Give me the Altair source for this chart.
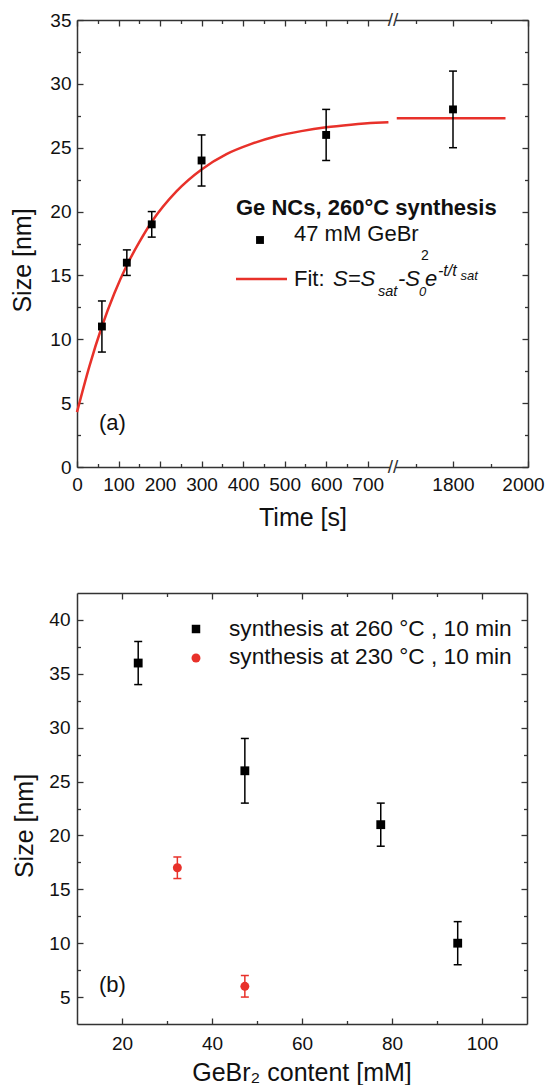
import altair as alt
import pandas as pd

FONT = "Liberation Sans"
AXC = "#333333"
TXT = "#111111"
RED = "#e8312a"

# ---------------- panel (a): size vs time ----------------
time_s = [60, 120, 180, 300, 600, 1800]
size_a = [11, 16, 19, 24, 26, 28]
err_a = [2, 1, 1, 2, 2, 3]

fit_t_early = [0, 30, 60, 90, 120, 150, 180, 240, 300, 360, 420, 480, 540, 600, 660, 720, 750]
fit_s_early = [4.3, 7.9, 11.0, 13.6, 15.8, 17.6, 19.2, 21.6, 23.3, 24.5, 25.3, 25.9, 26.3, 26.6, 26.8, 26.95, 27.0]
fit_t_late = [1650, 1940]
fit_s_late = [27.3, 27.3]

time_major_early = [0, 100, 200, 300, 400, 500, 600, 700]
time_minor_early = [50, 150, 250, 350, 450, 550, 650]
time_major_late = [1800, 2000]
time_minor_late = [1700, 1900]
size_major_a = [0, 5, 10, 15, 20, 25, 30, 35]
size_minor_a = [2.5, 7.5, 12.5, 17.5, 22.5, 27.5, 32.5]

legend_a_title = ["Ge NCs, 260°C synthesis"]
legend_a_series = ["47 mM GeBr"]
legend_a_sub = ["2"]
fit_parts = ["Fit:", "S=S", "sat", "-S", "0", "e", "-t/t", "sat"]
panel_a_tag = ["(a)"]
break_mark = ["//"]

# ---------------- panel (b): size vs GeBr2 content ----------------
conc_260 = [23.6, 47.3, 77.5, 94.6]
size_260 = [36, 26, 21, 10]
err_260 = [2, 3, 2, 2]
conc_230 = [32.3, 47.3]
size_230 = [17, 6]
err_230 = [1, 1]

conc_major = [20, 40, 60, 80, 100]
conc_minor = [30, 50, 70, 90]
size_major_b = [5, 10, 15, 20, 25, 30, 35, 40]
size_minor_b = [7.5, 12.5, 17.5, 22.5, 27.5, 32.5, 37.5]

legend_b = ["synthesis at 260 °C , 10 min", "synthesis at 230 °C , 10 min"]
panel_b_tag = ["(b)"]


def ax(orient, values, major=True, labels=False, domain=False, title=None,
       title_xy=(0, 0), pad=7, label_offset=None):
    tick = 6 if major else 3.5
    kw = dict(orient=orient, values=values, grid=False, ticks=True,
              tickSize=alt.ExprRef(expr=f"-{tick}"), tickColor=AXC, tickWidth=1.3,
              domain=domain, labels=labels, format="d")
    if domain:
        kw.update(domainColor=AXC, domainWidth=1.5)
    if labels:
        kw.update(labelFont=FONT, labelFontSize=19, labelColor=TXT,
                  labelPadding=tick + pad, labelFlush=False, labelOverlap=False)
        if label_offset is not None:
            kw.update(labelOffset=label_offset)
    if title:
        kw.update(title=title, titleFont=FONT, titleFontSize=25, titleFontWeight="normal",
                  titleColor=TXT, titleX=title_xy[0], titleY=title_xy[1],
                  titleAlign="center", titleBaseline="middle")
        if orient in ("left", "right"):
            kw.update(titleAngle=270)
    else:
        kw["title"] = None
    return alt.Axis(**kw)


def one(vals, col="v"):
    return pd.DataFrame({col: vals})


def text_at(s, x, y, size=22, style="normal", weight="normal", color=TXT, align="left"):
    return alt.Chart(one([s])).mark_text(
        font=FONT, fontSize=size, fontStyle=style, fontWeight=weight, color=color,
        align=align, baseline="middle"
    ).encode(x=alt.value(x), y=alt.value(y), text="v:N")


pts = pd.DataFrame({"t": time_s, "s": size_a, "e": err_a})
pts["lo"] = pts["s"] - pts["e"]
pts["hi"] = pts["s"] + pts["e"]
pts_early = pts[pts["t"] <= 761]
pts_late = pts[pts["t"] > 761]
fit_early = pd.DataFrame({"t": fit_t_early, "s": fit_s_early})
fit_late = pd.DataFrame({"t": fit_t_late, "s": fit_s_late})

ya = alt.Scale(domain=[0, 35], nice=False, zero=False)


def time_panel(xs, fit_df, p_df, major, minor, side, main, label_offset=None):
    yside = "left" if side == "left" else "right"
    fit = alt.Chart(fit_df).mark_line(color=RED, strokeWidth=2.5, interpolate="monotone").encode(
        x=alt.X("t:Q", scale=xs, axis=ax("bottom", major, labels=True, domain=True,
                                         title="Time [s]" if main else None, title_xy=(225.5, 50),
                                         pad=8, label_offset=label_offset)),
        y=alt.Y("s:Q", scale=ya, axis=ax(yside, size_major_a, labels=main, domain=True,
                                         title="Size [nm]" if main else None, title_xy=(-55, 240), pad=6)),
    )
    bars = alt.Chart(p_df).mark_rule(color="black", strokeWidth=1.5).encode(
        x=alt.X("t:Q", scale=xs, axis=ax("bottom", minor, major=False)),
        y=alt.Y("lo:Q", scale=ya, axis=ax(yside, size_minor_a, major=False)),
        y2="hi:Q",
    )
    caplo = alt.Chart(p_df).mark_tick(orient="horizontal", size=8, thickness=1.5,
                                      color="black", opacity=1).encode(
        x=alt.X("t:Q", scale=xs, axis=ax("top", major, domain=True)),
        y=alt.Y("lo:Q", scale=ya, axis=None),
    )
    caphi = alt.Chart(p_df).mark_tick(orient="horizontal", size=8, thickness=1.5,
                                      color="black", opacity=1).encode(
        x=alt.X("t:Q", scale=xs, axis=ax("top", minor, major=False)),
        y=alt.Y("hi:Q", scale=ya, axis=None),
    )
    sq = alt.Chart(p_df).mark_square(size=62, color="black", opacity=1).encode(
        x=alt.X("t:Q", scale=xs, axis=None),
        y=alt.Y("s:Q", scale=ya, axis=None),
    )
    return [fit, bars, caplo, caphi, sq]


xa1 = alt.Scale(domain=[0, 761], nice=False, zero=False)
xa2 = alt.Scale(domain=[1640, 2000], nice=False, zero=False)

left_layers = time_panel(xa1, fit_early, pts_early, time_major_early, time_minor_early, "left", True)
# legend of panel (a), placed in plot pixels of the left panel
left_layers += [
    text_at(legend_a_title[0], 159, 188, size=22, weight="bold"),
    alt.Chart(one([0])).mark_square(size=62, color="black", opacity=1).encode(
        x=alt.value(183), y=alt.value(220)),
    text_at(legend_a_series[0], 217, 214, size=22),
    text_at(legend_a_sub[0], 344, 236, size=14),
    alt.Chart(one([0])).mark_rule(color=RED, strokeWidth=2.5).encode(
        x=alt.value(159), x2=alt.value(210), y=alt.value(259)),
    text_at(fit_parts[0], 217, 259, size=22),
    text_at(fit_parts[1], 256, 259, size=22, style="italic"),
    text_at(fit_parts[2], 301, 272, size=14.5, style="italic"),
    text_at(fit_parts[3], 321, 259, size=22, style="italic"),
    text_at(fit_parts[4], 342, 272, size=13, style="italic"),
    text_at(fit_parts[5], 348, 259, size=22, style="italic"),
    text_at(fit_parts[6], 361, 251, size=16, style="italic"),
    text_at(fit_parts[7], 383.5, 256, size=13, style="italic"),
    text_at(panel_a_tag[0], 22, 403, size=22),
]
left = alt.layer(*left_layers).properties(width=316, height=447).resolve_axis(
    x="independent", y="independent")

right_layers = time_panel(xa2, fit_late, pts_late, time_major_late, time_minor_late, "right", False,
                          label_offset=alt.condition("datum.value == 2000", alt.value(-5), alt.value(0)))
right_layers += [
    alt.Chart(one([0])).mark_rect(color="white").encode(
        x=alt.value(-3), x2=alt.value(3), y=alt.value(-2), y2=alt.value(2)),
    alt.Chart(one([0])).mark_rect(color="white").encode(
        x=alt.value(-3), x2=alt.value(3), y=alt.value(445), y2=alt.value(449)),
    text_at(break_mark[0], 0, 0, size=19, color=AXC, align="center"),
    text_at(break_mark[0], 0, 447, size=19, color=AXC, align="center"),
]
right = alt.layer(*right_layers).properties(width=135, height=447).resolve_axis(
    x="independent", y="independent")

top = alt.hconcat(left, right, spacing=0, bounds="flush").resolve_scale(
    x="independent", y="independent")

# ---------------- panel (b) ----------------
b260 = pd.DataFrame({"c": conc_260, "s": size_260, "e": err_260})
b260["lo"] = b260["s"] - b260["e"]
b260["hi"] = b260["s"] + b260["e"]
b230 = pd.DataFrame({"c": conc_230, "s": size_230, "e": err_230})
b230["lo"] = b230["s"] - b230["e"]
b230["hi"] = b230["s"] + b230["e"]

xb = alt.Scale(domain=[10, 110], nice=False, zero=False)
yb = alt.Scale(domain=[2.5, 42.5], nice=False, zero=False)

b_layers = [
    alt.Chart(b260).mark_rule(color="black", strokeWidth=1.5).encode(
        x=alt.X("c:Q", scale=xb, axis=ax("bottom", conc_major, labels=True, domain=True,
                                         title="GeBr₂ content [mM]", title_xy=(224.5, 48), pad=10)),
        y=alt.Y("lo:Q", scale=yb, axis=ax("left", size_major_b, labels=True, domain=True,
                                          title="Size [nm]", title_xy=(-53, 232.5), pad=7)),
        y2="hi:Q"),
    alt.Chart(b260).mark_tick(orient="horizontal", size=8, thickness=1.5, color="black", opacity=1).encode(
        x=alt.X("c:Q", scale=xb, axis=ax("bottom", conc_minor, major=False)),
        y=alt.Y("lo:Q", scale=yb, axis=ax("left", size_minor_b, major=False))),
    alt.Chart(b260).mark_tick(orient="horizontal", size=8, thickness=1.5, color="black", opacity=1).encode(
        x=alt.X("c:Q", scale=xb, axis=ax("top", conc_major, domain=True)),
        y=alt.Y("hi:Q", scale=yb, axis=ax("right", size_major_b, domain=True))),
    alt.Chart(b260).mark_square(size=78, color="black", opacity=1).encode(
        x=alt.X("c:Q", scale=xb, axis=ax("top", conc_minor, major=False)),
        y=alt.Y("s:Q", scale=yb, axis=ax("right", size_minor_b, major=False))),
    alt.Chart(b230).mark_rule(color=RED, strokeWidth=1.5).encode(
        x=alt.X("c:Q", scale=xb, axis=None), y=alt.Y("lo:Q", scale=yb, axis=None), y2="hi:Q"),
    alt.Chart(b230).mark_tick(orient="horizontal", size=8, thickness=1.5, color=RED, opacity=1).encode(
        x=alt.X("c:Q", scale=xb, axis=None), y=alt.Y("lo:Q", scale=yb, axis=None)),
    alt.Chart(b230).mark_tick(orient="horizontal", size=8, thickness=1.5, color=RED, opacity=1).encode(
        x=alt.X("c:Q", scale=xb, axis=None), y=alt.Y("hi:Q", scale=yb, axis=None)),
    alt.Chart(b230).mark_circle(size=80, color=RED, opacity=1).encode(
        x=alt.X("c:Q", scale=xb, axis=None), y=alt.Y("s:Q", scale=yb, axis=None)),
    # legend of panel (b)
    alt.Chart(one([0])).mark_square(size=72, color="black", opacity=1).encode(
        x=alt.value(119), y=alt.value(36)),
    alt.Chart(one([0])).mark_circle(size=80, color=RED, opacity=1).encode(
        x=alt.value(119), y=alt.value(65)),
    text_at(legend_b[0], 152, 36, size=22.7),
    text_at(legend_b[1], 152, 64, size=22.7),
    text_at(panel_b_tag[0], 22, 392, size=22),
]
bottom = alt.layer(*b_layers).properties(width=450, height=431).resolve_axis(
    x="independent", y="independent")

chart = alt.vconcat(top, bottom, spacing=62).resolve_scale(
    x="independent", y="independent"
).configure_view(stroke=None).properties(
    padding={"left": 2, "top": 3, "right": 0, "bottom": 0},
    background="white",
)

chart.save("out.html", embed_options={"renderer": "svg", "actions": False})
